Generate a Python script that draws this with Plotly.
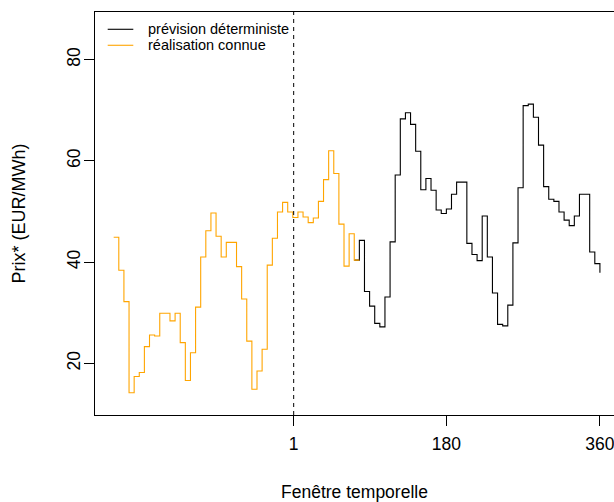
import plotly.graph_objects as go

# Time index (step of 6 units)
STEP = 6
known_start = -210
forecast_start = 78
horizon_end = 360
cutoff = 1

# Known realisation (orange), one value per step from x=-210 to x=72
realised = [44.9, 38.4, 32.2, 14.2, 17.4, 18.2, 23.3, 25.6, 25.4, 29.9,
            29.9, 28.4, 29.9, 24.1, 16.6, 22.1, 31.1, 41.0, 46.2, 49.7,
            45.1, 41.0, 43.9, 43.9, 39.1, 32.7, 24.4, 14.9, 18.5, 22.8,
            39.4, 44.7, 49.9, 51.8, 49.9, 48.8, 49.9, 48.9, 47.8, 48.7,
            52.0, 56.3, 62.0, 57.5, 47.5, 39.2, 45.6, 40.4]

# Deterministic forecast (black), from x=78 to x=360
forecast = [44.3, 34.2, 31.3, 27.9, 27.2, 33.1, 44.0, 57.2, 68.3, 69.5,
            67.2, 61.9, 54.3, 56.5, 54.2, 50.3, 49.6, 50.5, 53.4, 55.8,
            55.8, 43.7, 41.5, 40.3, 49.1, 41.0, 33.9, 27.7, 27.4, 31.5,
            43.8, 54.7, 70.9, 71.2, 68.6, 63.1, 54.9, 52.4, 52.0, 49.9,
            48.3, 47.2, 49.1, 53.4, 53.4, 42.0, 39.7, 37.9]

x_ticks = [1, 180, 360]
y_ticks = [20, 40, 60, 80]

series_names = ["prévision déterministe", "réalisation connue"]
series_colors = ["black", "#FFA500"]

real_x = [known_start + STEP * i for i in range(len(realised))]
# extend last step to the forecast start
real_x_plot = real_x + [forecast_start]
real_y_plot = realised + [realised[-1]]

fc_x = [forecast_start + STEP * i for i in range(len(forecast))]
fc_x_plot = [real_x[-1]] + fc_x
fc_y_plot = [realised[-1]] + forecast

FONT = "Liberation Sans, Arial, sans-serif"

fig = go.Figure()
fig.add_trace(go.Scatter(
    x=fc_x_plot, y=fc_y_plot, mode="lines", line_shape="hv",
    line=dict(color=series_colors[0], width=1.1), name=series_names[0],
    showlegend=False))
fig.add_trace(go.Scatter(
    x=real_x_plot, y=real_y_plot, mode="lines", line_shape="hv",
    line=dict(color=series_colors[1], width=1.1), name=series_names[1],
    showlegend=False))

fig.add_shape(type="line", xref="x", yref="paper", x0=cutoff, x1=cutoff,
              y0=0, y1=1, line=dict(color="black", width=1, dash="4px,4px"))

# legend (R style, top-left inside the box)
PLOT_W = 614 - 95
PLOT_H = 415 - 11.7
def px_x(p):
    return (p - 95) / PLOT_W
def px_y(p):
    return 1 - (p - 11.7) / PLOT_H

leg_rows_y = [px_y(29), px_y(45)]
for name, col, yy in zip(series_names, series_colors, leg_rows_y):
    fig.add_shape(type="line", xref="paper", yref="paper",
                  x0=px_x(107.7), x1=px_x(133.3), y0=yy, y1=yy,
                  line=dict(color=col, width=1.1))
    fig.add_annotation(xref="paper", yref="paper", x=px_x(145.5), y=yy,
                       xanchor="left", yanchor="middle", text=name,
                       showarrow=False,
                       font=dict(family=FONT, size=14.5, color="black"))

fig.update_layout(
    width=614, height=502,
    margin=dict(l=95, r=0, t=11.7, b=87),
    paper_bgcolor="white", plot_bgcolor="white",
    font=dict(family=FONT, size=17.5, color="black"),
    showlegend=False,
    xaxis=dict(range=[-231.9, 376.5], tickmode="array", tickvals=x_ticks,
               ticktext=[str(v) for v in x_ticks],
               showgrid=False, zeroline=False, showline=True,
               linecolor="black", linewidth=1, mirror=True,
               ticks="outside", ticklen=10, tickcolor="black",
               ticklabelstandoff=3, ticklabeloverflow="allow",
               tickfont=dict(size=17.5),
               title=dict(text="Fenêtre temporelle", standoff=32,
                          font=dict(size=17.5))),
    yaxis=dict(range=[9.8, 89.4], tickmode="array", tickvals=y_ticks,
               showgrid=False, zeroline=False, showline=True,
               linecolor="black", linewidth=1, mirror=False,
               ticks="outside", ticklen=10, tickcolor="black",
               ticklabelstandoff=-3,
               tickangle=-90, tickfont=dict(size=17.5),
               title=dict(text="Prix* (EUR/MWh)", standoff=33,
                          font=dict(size=18))),
)

fig.write_html(
    "out.html",
    config={"displayModeBar": False},
    post_script="document.body.style.margin='0';"
                "document.body.style.overflow='hidden';")
